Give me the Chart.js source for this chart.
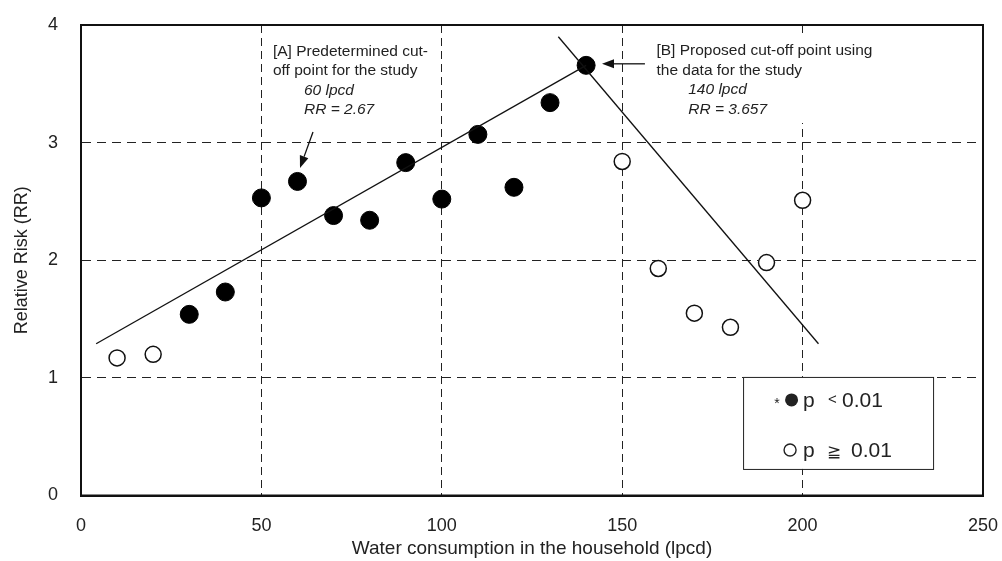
<!DOCTYPE html>
<html>
<head>
<meta charset="utf-8">
<script src="https://cdn.jsdelivr.net/npm/chart.js@4"></script>
<style>
  html, body { margin: 0; padding: 0; background: #fff; }
  #wrap { width: 1002px; height: 561px; }
</style>
</head>
<body>
<div id="wrap"><canvas id="rrChart" width="1002" height="561"></canvas></div>
<script>
// water consumption (lpcd) and relative risk
const xSignificant = [30, 40, 50, 60, 70, 80, 90, 100, 110, 120, 130, 140];
const rrSignificant = [1.54, 1.73, 2.53, 2.67, 2.38, 2.34, 2.83, 2.52, 3.07, 2.62, 3.34, 3.657];
const xNotSignificant = [10, 20, 150, 160, 170, 180, 190, 200];
const rrNotSignificant = [1.17, 1.2, 2.84, 1.93, 1.55, 1.43, 1.98, 2.51];

// the two fitted lines (end points)
const riseLineX = [4.2, 140];
const riseLineY = [1.29, 3.657];
const fallLineX = [132.3, 204.4];
const fallLineY = [3.9, 1.29];

const xTicks = [0, 50, 100, 150, 200, 250];
const yTicks = [0, 1, 2, 3, 4];

const FONT = "'Liberation Sans', Arial, sans-serif";

function toPoints(xs, ys) {
  return xs.map((x, i) => ({ x: x, y: ys[i] }));
}

// annotations, arrows, frame and legend box
const overlayPlugin = {
  id: "overlay",
  afterDatasetsDraw(chart) {
    const ctx = chart.ctx;
    const xs = chart.scales.x;
    const ys = chart.scales.y;
    const area = chart.chartArea;
    const px = (v) => xs.getPixelForValue(v);
    const py = (v) => ys.getPixelForValue(v);

    ctx.save();

    // frame on all four sides
    ctx.strokeStyle = "#111";
    ctx.lineWidth = 2;
    ctx.strokeRect(area.left, area.top, area.right - area.left, area.bottom - area.top);

    // white patch behind note B
    ctx.fillStyle = "#fff";
    ctx.fillRect(px(157.5), 36, 225, 87);

    ctx.fillStyle = "#222";
    ctx.textBaseline = "middle";
    ctx.textAlign = "left";

    // note A
    ctx.font = "15.5px " + FONT;
    ctx.fillText("[A] Predetermined cut-", px(53.2), 52);
    ctx.fillText("off point for the study", px(53.2), 71);
    ctx.font = "italic 15.5px " + FONT;
    ctx.fillText("60 lpcd", px(61.8), 90.5);
    ctx.fillText("RR = 2.67", px(61.8), 109.5);

    // note B
    ctx.font = "15.5px " + FONT;
    ctx.fillText("[B] Proposed cut-off point using", px(159.5), 51);
    ctx.fillText("the data for the study", px(159.5), 71);
    ctx.font = "italic 15.5px " + FONT;
    ctx.fillText("140 lpcd", px(168.3), 90);
    ctx.fillText("RR = 3.657", px(168.3), 109.5);

    // arrows
    drawArrow(ctx, px(64.3), py(3.09), px(60.7), py(2.785));
    drawArrow(ctx, px(156.3), py(3.67), px(144.4), py(3.67));

    // legend box
    const lx = px(183.5), ly = py(1.008);
    const lw = 190, lh = 92;
    ctx.fillStyle = "#fff";
    ctx.fillRect(lx, ly, lw, lh);
    ctx.strokeStyle = "#222";
    ctx.lineWidth = 1;
    ctx.strokeRect(lx + 0.5, ly + 0.5, lw, lh);

    const row1 = ly + 23, row2 = ly + 73;
    ctx.fillStyle = "#222";
    ctx.font = "14px " + FONT;
    ctx.textAlign = "center";
    ctx.fillText("*", lx + 34, row1 + 4);
    ctx.beginPath();
    ctx.arc(lx + 48.5, row1, 6.5, 0, Math.PI * 2);
    ctx.fill();
    ctx.beginPath();
    ctx.lineWidth = 1.4;
    ctx.arc(lx + 47, row2, 6, 0, Math.PI * 2);
    ctx.stroke();

    ctx.textAlign = "left";
    ctx.font = "21px " + FONT;
    ctx.fillText("p", lx + 60, row1 + 1);
    ctx.fillText("0.01", lx + 99, row1 + 1);
    ctx.fillText("p", lx + 60, row2 + 1);
    ctx.fillText("0.01", lx + 108, row2 + 1);
    ctx.font = "15px " + FONT;
    ctx.fillText("<", lx + 85, row1);
    ctx.font = "17px " + FONT;
    ctx.fillText("\u2267", lx + 84, row2 + 2);

    ctx.restore();
  },
};

function drawArrow(ctx, x1, y1, x2, y2) {
  const ang = Math.atan2(y2 - y1, x2 - x1);
  const len = 12, half = 4.5;
  const bx = x2 - Math.cos(ang) * len;
  const by = y2 - Math.sin(ang) * len;
  ctx.strokeStyle = "#111";
  ctx.fillStyle = "#111";
  ctx.lineWidth = 1.3;
  ctx.beginPath();
  ctx.moveTo(x1, y1);
  ctx.lineTo(bx, by);
  ctx.stroke();
  ctx.beginPath();
  ctx.moveTo(x2, y2);
  ctx.lineTo(bx + Math.sin(ang) * half, by - Math.cos(ang) * half);
  ctx.lineTo(bx - Math.sin(ang) * half, by + Math.cos(ang) * half);
  ctx.closePath();
  ctx.fill();
}

new Chart(document.getElementById("rrChart").getContext("2d"), {
  type: "scatter",
  data: {
    datasets: [
      {
        label: "rise",
        data: toPoints(riseLineX, riseLineY),
        showLine: true,
        borderColor: "#111",
        borderWidth: 1.3,
        pointRadius: 0,
      },
      {
        label: "fall",
        data: toPoints(fallLineX, fallLineY),
        showLine: true,
        borderColor: "#111",
        borderWidth: 1.3,
        pointRadius: 0,
      },
      {
        label: "p < 0.01",
        data: toPoints(xSignificant, rrSignificant),
        pointRadius: 9,
        pointBackgroundColor: "#000",
        pointBorderColor: "#000",
        pointBorderWidth: 1,
      },
      {
        label: "p >= 0.01",
        data: toPoints(xNotSignificant, rrNotSignificant),
        pointRadius: 8,
        pointBackgroundColor: "#fff",
        pointBorderColor: "#111",
        pointBorderWidth: 1.5,
      },
    ],
  },
  options: {
    responsive: false,
    animation: false,
    layout: { padding: { left: 0, top: 25, right: 19, bottom: 0 } },
    plugins: {
      legend: { display: false },
      tooltip: { enabled: false },
    },
    scales: {
      x: {
        type: "linear",
        min: 0,
        max: 250,
        afterBuildTicks: (scale) => {
          scale.ticks = xTicks.map((v) => ({ value: v }));
        },
        afterFit: (scale) => {
          scale.height = 65.5;
          scale.paddingLeft = 0;
          scale.paddingRight = 0;
        },
        ticks: {
          padding: 20,
          color: "#222",
          font: { family: FONT, size: 18 },
          maxRotation: 0,
        },
        grid: { color: "#222", lineWidth: 1, drawTicks: false },
        border: { color: "#111", width: 2, dash: [8, 5] },
        title: {
          display: true,
          text: "Water consumption in the household (lpcd)",
          color: "#222",
          font: { family: FONT, size: 19 },
          padding: { top: 0, bottom: 1 },
        },
      },
      y: {
        type: "linear",
        min: 0,
        max: 4,
        afterBuildTicks: (scale) => {
          scale.ticks = yTicks.map((v) => ({ value: v }));
        },
        afterFit: (scale) => {
          scale.width = 81;
          scale.paddingTop = 0;
          scale.paddingBottom = 0;
        },
        ticks: {
          padding: 23,
          color: "#222",
          font: { family: FONT, size: 18 },
        },
        grid: { color: "#222", lineWidth: 1, drawTicks: false },
        border: { color: "#111", width: 2, dash: [9, 6] },
        title: {
          display: true,
          text: "Relative Risk (RR)",
          color: "#222",
          font: { family: FONT, size: 18 },
          padding: { top: 11, bottom: 0 },
        },
      },
    },
  },
  plugins: [overlayPlugin],
});
</script>
</body>
</html>
